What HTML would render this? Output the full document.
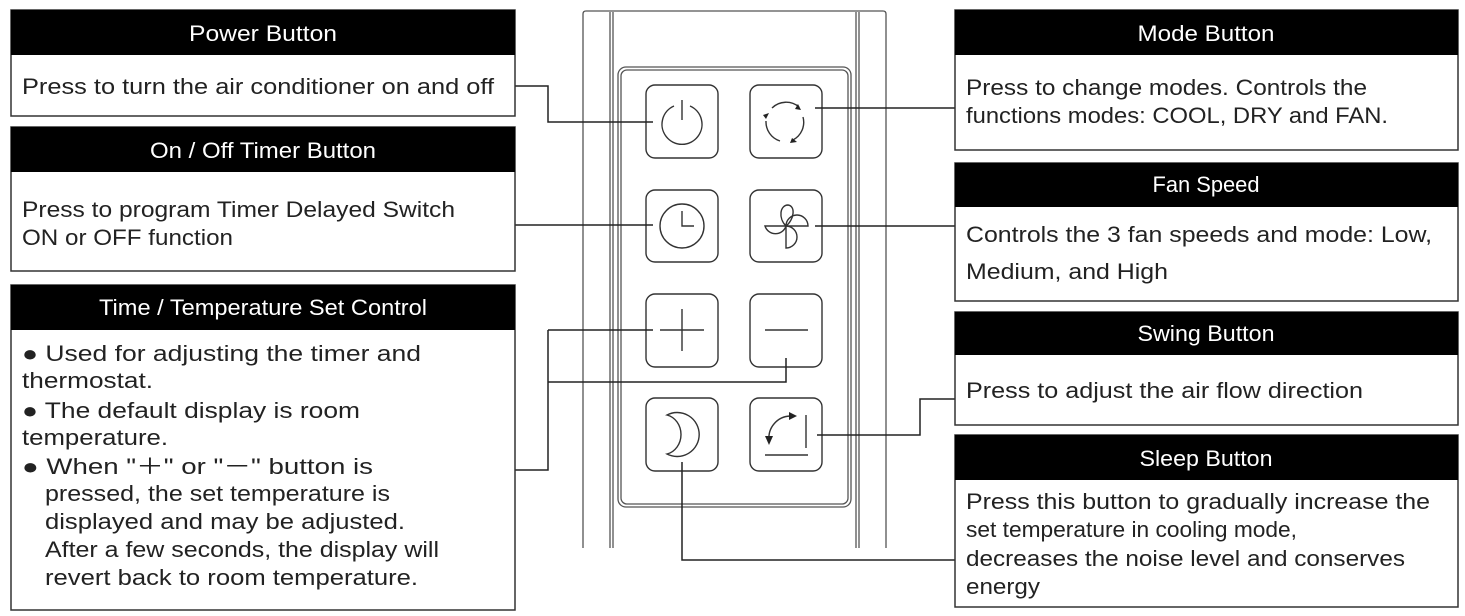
<!DOCTYPE html>
<html><head><meta charset="utf-8"><style>
html,body{margin:0;padding:0;background:#fff;}
svg{display:block;}
text{font-family:"Liberation Sans",sans-serif;font-size:22px;fill:#222;}
.h{fill:#fff;text-anchor:middle;}
</style></head><body>
<svg width="1465" height="616" viewBox="0 0 1465 616" xmlns="http://www.w3.org/2000/svg">
<g fill="none" stroke="#555" stroke-width="1.3">
 <path d="M583 548 V14 Q583 11 586 11 H883 Q886 11 886 14 V548"/>
 <line x1="610" y1="12" x2="610" y2="548"/><line x1="613" y1="12" x2="613" y2="548"/>
 <line x1="856" y1="12" x2="856" y2="548"/><line x1="859" y1="12" x2="859" y2="548"/>
 <rect x="618" y="67" width="233" height="440" rx="8"/>
 <rect x="621" y="70" width="227" height="434" rx="6"/>
</g>
<g fill="none" stroke="#333" stroke-width="1.4">
 <rect x="646" y="85" width="72" height="73" rx="9"/>
 <rect x="750" y="85" width="72" height="73" rx="9"/>
 <rect x="646" y="190" width="72" height="72" rx="9"/>
 <rect x="750" y="190" width="72" height="72" rx="9"/>
 <rect x="646" y="294" width="72" height="73" rx="9"/>
 <rect x="750" y="294" width="72" height="73" rx="9"/>
 <rect x="646" y="398" width="72" height="73" rx="9"/>
 <rect x="750" y="398" width="72" height="73" rx="9"/>
 <path d="M674 106 A20 20 0 1 0 690 106"/><line x1="682" y1="100" x2="682" y2="120"/>
 <path d="M772 108 A20 20 0 0 1 799 107"/><path d="M803 117 A20 20 0 0 1 793 140"/><path d="M780 141 A20 20 0 0 1 766 121"/>
 <circle cx="682" cy="226" r="22"/><path d="M682 211 V226 H694"/>
 <!-- fan -->
 <path d="M786 226 C778 218 780 205 788 205 C796 206 794 220 786 226"/>
 <path d="M786 226 A11 11 0 0 1 808 226 Z"/>
 <path d="M786 226 A11 11 0 0 1 786 248 Z"/>
 <path d="M786 226 A11 11 0 0 1 765 226 Z"/>
 <line x1="660" y1="330" x2="704" y2="330"/><line x1="682" y1="309" x2="682" y2="351"/>
 <line x1="765" y1="330" x2="808" y2="330"/>
 <path d="M667 415 A22 22 0 1 1 667 454 A18 20 0 0 0 667 415 Z"/>
 <line x1="806" y1="415" x2="806" y2="448"/><line x1="765" y1="455" x2="808" y2="455"/>
 <path d="M769 440 A22 22 0 0 1 790 416"/>
</g>
<g fill="#222"><path d="M765 436 L773 436 L769 445 Z"/><path d="M789 412 L797 416 L789 420 Z"/>
<path d="M798 104 L801 110 L795 109 Z"/><path d="M792 138 L797 142 L790 143 Z"/><path d="M766 119 L769 113 L763 115 Z"/></g>

<g fill="none" stroke="#222" stroke-width="1.5">
 <path d="M515 86 H548 V122 H653"/>
 <path d="M515 225 H653"/>
 <path d="M548 330 H653"/>
 <path d="M515 470 H548 V330"/>
 <path d="M786 358 V382 H548"/>
 <path d="M815 108 H955"/>
 <path d="M815 226 H955"/>
 <path d="M817 435 H920 V399 H955"/>
 <path d="M682 462 V560 H955"/>
</g>

<g stroke="#333" stroke-width="1.5" fill="#fff">
 <rect x="11" y="10" width="504" height="106"/>
 <rect x="11" y="127" width="504" height="144"/>
 <rect x="11" y="285" width="504" height="325"/>
 <rect x="955" y="10" width="503" height="140"/>
 <rect x="955" y="163" width="503" height="138"/>
 <rect x="955" y="312" width="503" height="113"/>
 <rect x="955" y="435" width="503" height="172"/>
</g>
<g fill="#000">
 <rect x="11" y="10" width="504" height="45"/>
 <rect x="11" y="127" width="504" height="45"/>
 <rect x="11" y="285" width="504" height="45"/>
 <rect x="955" y="10" width="503" height="45"/>
 <rect x="955" y="163" width="503" height="44"/>
 <rect x="955" y="312" width="503" height="43"/>
 <rect x="955" y="435" width="503" height="45"/>
</g>
<text class="h" x="263" y="41" textLength="148" lengthAdjust="spacingAndGlyphs">Power  Button</text>
<text class="h" x="263" y="158" textLength="226" lengthAdjust="spacingAndGlyphs">On / Off Timer Button</text>
<text class="h" x="263" y="315" textLength="328" lengthAdjust="spacingAndGlyphs">Time / Temperature Set Control</text>
<text class="h" x="1206" y="41" textLength="137" lengthAdjust="spacingAndGlyphs">Mode Button</text>
<text class="h" x="1206" y="192" textLength="107" lengthAdjust="spacingAndGlyphs">Fan Speed</text>
<text class="h" x="1206" y="341" textLength="137" lengthAdjust="spacingAndGlyphs">Swing Button</text>
<text class="h" x="1206" y="466" textLength="133" lengthAdjust="spacingAndGlyphs">Sleep Button</text>

<text x="22" y="94" textLength="472" lengthAdjust="spacingAndGlyphs">Press to turn the air conditioner on and off</text>
<text x="22" y="217" textLength="433" lengthAdjust="spacingAndGlyphs">Press to program Timer Delayed Switch</text>
<text x="22" y="245" textLength="211" lengthAdjust="spacingAndGlyphs">ON or OFF function</text>
<text x="22" y="361" textLength="399" lengthAdjust="spacingAndGlyphs">● Used  for  adjusting  the timer and</text>
<text x="22" y="388" textLength="131" lengthAdjust="spacingAndGlyphs">thermostat.</text>
<text x="22" y="418" textLength="338" lengthAdjust="spacingAndGlyphs">● The  default  display  is room</text>
<text x="22" y="445" textLength="146" lengthAdjust="spacingAndGlyphs">temperature.</text>
<text x="22" y="474" textLength="351" lengthAdjust="spacingAndGlyphs">● When  "＋" or  "－" button is</text>
<text x="45" y="501" textLength="345" lengthAdjust="spacingAndGlyphs">pressed, the set temperature is</text>
<text x="45" y="529" textLength="360" lengthAdjust="spacingAndGlyphs">displayed and  may  be adjusted.</text>
<text x="45" y="557" textLength="394" lengthAdjust="spacingAndGlyphs">After a few seconds, the display will</text>
<text x="45" y="585" textLength="373" lengthAdjust="spacingAndGlyphs">revert back to room temperature.</text>

<text x="966" y="95" textLength="401" lengthAdjust="spacingAndGlyphs">Press to change modes. Controls the</text>
<text x="966" y="123" textLength="422" lengthAdjust="spacingAndGlyphs">functions modes: COOL, DRY and FAN.</text>
<text x="966" y="242" textLength="466" lengthAdjust="spacingAndGlyphs">Controls the 3 fan speeds and mode: Low,</text>
<text x="966" y="279" textLength="202" lengthAdjust="spacingAndGlyphs">Medium, and High</text>
<text x="966" y="398" textLength="397" lengthAdjust="spacingAndGlyphs">Press to adjust the air flow direction</text>
<text x="966" y="509" textLength="464" lengthAdjust="spacingAndGlyphs">Press this button to gradually increase the</text>
<text x="966" y="537" textLength="331" lengthAdjust="spacingAndGlyphs">set temperature in cooling mode,</text>
<text x="966" y="566" textLength="439" lengthAdjust="spacingAndGlyphs">decreases the noise level and conserves</text>
<text x="966" y="594" textLength="74" lengthAdjust="spacingAndGlyphs">energy</text>
</svg>
</body></html>
